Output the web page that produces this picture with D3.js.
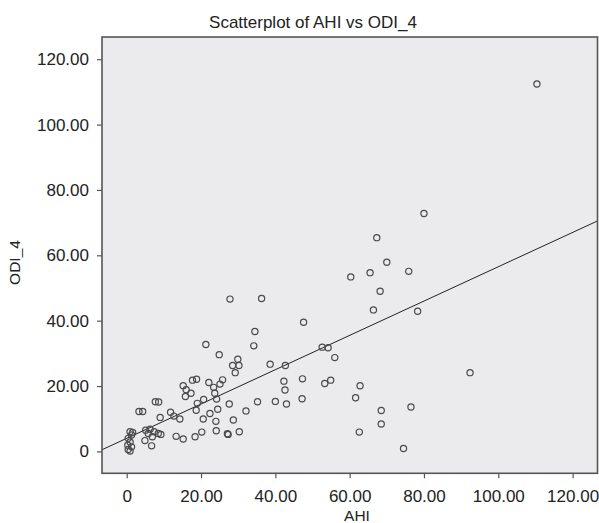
<!DOCTYPE html>
<html>
<head>
<meta charset="utf-8">
<script src="https://cdn.jsdelivr.net/npm/d3@7"></script>
<style>
  html, body { margin: 0; padding: 0; background: #fff; }
  svg { display: block; font-family: "Liberation Sans", Arial, Helvetica, sans-serif; }
</style>
</head>
<body>
<svg id="chart" width="599" height="523"></svg>
<script>
// ---- data ----
const ahi = [110.4, 80.0, 67.3, 70.0, 65.5, 60.3, 75.9, 68.2, 66.4, 78.3,
  92.4, 52.6, 54.2, 56.0, 53.3, 54.9, 62.8, 61.6, 68.5, 76.5,
  68.5, 62.6, 74.5, 47.6, 47.3, 47.2, 42.7, 42.3, 42.6, 43.0,
  38.6, 40.0, 35.2, 36.3, 27.8, 34.5, 34.2, 21.3, 24.9, 29.9,
  28.5, 30.2, 29.2, 32.1, 28.7, 27.6, 24.5, 24.0, 24.1, 27.1,
  27.3, 30.3, 20.2, 18.4, 20.6, 22.4, 20.7, 18.7, 19.0, 17.7,
  18.8, 22.1, 23.4, 23.7, 24.2, 25.1, 25.8, 15.2, 16.0, 17.3,
  15.8, 14.3, 12.7, 11.8, 13.3, 15.2, 9.0, 7.7, 8.6, 3.3,
  4.3, 5.1, 6.3, 5.8, 7.4, 8.5, 9.2, 6.9, 4.9, 6.7,
  0.9, 1.3, 0.4, 0.9, 0.3, 1.3, 0.4, 0.9, 1.6];
const odi4 = [112.4, 72.8, 65.4, 57.9, 54.7, 53.4, 55.1, 49.0, 43.3, 42.9,
  24.1, 31.9, 31.7, 28.7, 20.8, 21.8, 20.1, 16.4, 12.5, 13.6,
  8.4, 5.9, 0.9, 39.5, 22.2, 16.1, 26.3, 21.5, 18.8, 14.5,
  26.7, 15.3, 15.2, 46.8, 46.6, 36.7, 32.3, 32.7, 29.6, 28.2,
  26.3, 26.3, 24.1, 12.4, 9.6, 14.5, 12.9, 9.2, 6.3, 5.4,
  5.2, 6.0, 5.9, 4.5, 9.9, 11.6, 15.9, 12.6, 14.7, 21.8,
  22.1, 21.1, 19.6, 17.8, 16.0, 20.6, 21.9, 20.1, 18.9, 17.8,
  16.8, 9.9, 10.8, 12.0, 4.6, 3.8, 10.4, 15.2, 15.1, 12.2,
  12.2, 6.5, 6.8, 5.5, 6.0, 5.5, 5.2, 4.5, 3.3, 1.7,
  6.0, 5.0, 4.0, 2.9, 1.9, 1.4, 0.6, 0.1, 5.8];
const xTicks = [0, 20, 40, 60, 80, 100, 120];
const yTicks = [0, 20, 40, 60, 80, 100, 120];
const fitIntercept = 4.0;
const fitSlope = 0.525;
const titleText = "Scatterplot of AHI vs ODI_4";
const xLabel = "AHI";
const yLabel = "ODI_4";

// ---- layout ----
const svg = d3.select("#chart");
const pLeft = 102, pTop = 37, pRight = 597.5, pBottom = 473.3;
const x = d3.scaleLinear().domain([-6.65, 126.7]).range([pLeft, pRight]);
const y = d3.scaleLinear().domain([-6.7, 126.8]).range([pBottom, pTop]);
const fmt = v => v === 0 ? "0" : d3.format(".2f")(v);

// plot background
svg.append("rect")
  .attr("x", pLeft).attr("y", pTop)
  .attr("width", pRight - pLeft).attr("height", pBottom - pTop)
  .attr("fill", "#ebebed");

svg.append("defs").append("clipPath").attr("id", "clip")
  .append("rect").attr("x", pLeft).attr("y", pTop)
  .attr("width", pRight - pLeft).attr("height", pBottom - pTop);

// axes
const xAxis = svg.append("g")
  .attr("transform", `translate(0,${pBottom})`)
  .call(d3.axisBottom(x).tickValues(xTicks).tickFormat(fmt).tickSize(5).tickPadding(8));
const yAxis = svg.append("g")
  .attr("transform", `translate(${pLeft},0)`)
  .call(d3.axisLeft(y).tickValues(yTicks).tickFormat(fmt).tickSize(5).tickPadding(8));
[xAxis, yAxis].forEach(g => {
  g.select(".domain").remove();
  g.selectAll(".tick line").attr("stroke", "#555").attr("stroke-width", 1.2);
  g.selectAll(".tick text").attr("fill", "#222").style("font-size", "17px")
    .style("font-family", "'Liberation Sans', Arial, sans-serif");
});
xAxis.selectAll(".tick text").attr("dy", "0.95em");

// fit line
const xd = x.domain();
svg.append("line")
  .attr("clip-path", "url(#clip)")
  .attr("x1", x(xd[0])).attr("y1", y(fitIntercept + fitSlope * xd[0]))
  .attr("x2", x(xd[1])).attr("y2", y(fitIntercept + fitSlope * xd[1]))
  .attr("stroke", "#222").attr("stroke-width", 1);

// points
const pts = ahi.map((v, i) => ({ x: v, y: odi4[i] }));
svg.append("g").selectAll("circle").data(pts).join("circle")
  .attr("cx", d => x(d.x)).attr("cy", d => y(d.y)).attr("r", 3.1)
  .attr("fill", "none").attr("stroke", "#4a4a4a").attr("stroke-width", 1.2);

// frame
svg.append("rect")
  .attr("x", pLeft).attr("y", pTop)
  .attr("width", pRight - pLeft).attr("height", pBottom - pTop)
  .attr("fill", "none").attr("stroke", "#555").attr("stroke-width", 1.6);

// title & labels
svg.append("text").attr("x", 313).attr("y", 27.5).attr("text-anchor", "middle")
  .attr("fill", "#222").style("font-size", "17px").text(titleText);
svg.append("text").attr("x", 357).attr("y", 521).attr("text-anchor", "middle")
  .attr("fill", "#222").style("font-size", "15.5px").text(xLabel);
svg.append("text").attr("transform", "translate(20,262.5) rotate(-90)")
  .attr("text-anchor", "middle").attr("fill", "#222")
  .style("font-size", "15.5px").text(yLabel);
</script>
</body>
</html>
